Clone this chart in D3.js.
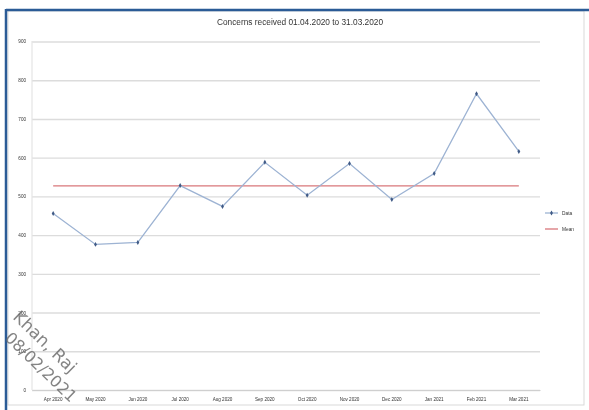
<!DOCTYPE html>
<html><head><meta charset="utf-8">
<script src="https://cdn.jsdelivr.net/npm/d3@7"></script>
<style>body{margin:0;background:#fff}svg{display:block}</style>
</head><body>
<svg id="c" width="589" height="410"></svg>
<script>
const months = ["Apr 2020","May 2020","Jun 2020","Jul 2020","Aug 2020","Sep 2020","Oct 2020","Nov 2020","Dec 2020","Jan 2021","Feb 2021","Mar 2021"];
const dataValues = [456, 376, 381, 528, 474, 588, 503, 585, 492, 559, 765, 616];
const yTicks = [0,100,200,300,400,500,600,700,800,900];
const titleText = "Concerns received 01.04.2020 to 31.03.2020";
const legendLabels = ["Data","Mean"];
const watermark = ["Khan, Raj","08/02/2021"];

const meanValue = d3.mean(dataValues);
const svg = d3.select("#c");
// frame
svg.append("rect").attr("x",8).attr("y",11).attr("width",576).attr("height",394).attr("fill","#fff").attr("stroke","#d9d9d9").attr("stroke-width",1);
svg.append("line").attr("x1",6).attr("x2",589).attr("y1",10).attr("y2",10).attr("stroke","#2b5b96").attr("stroke-width",2.5);
svg.append("line").attr("x1",6).attr("x2",6).attr("y1",9).attr("y2",410).attr("stroke","#2b5b96").attr("stroke-width",2.5);

const x=d3.scaleBand().domain(months).range([32,540]);
const y=d3.scaleLinear().domain([0,900]).range([390,41.5]);

const defs=svg.append("defs");
defs.append("filter").attr("id","blur").append("feGaussianBlur").attr("stdDeviation",0.45);
const g=svg.append("g").attr("filter","url(#blur)");

// gridlines
const ya=d3.axisLeft(y).tickValues(yTicks).tickSize(-(540-32)).tickFormat(d=>d);
const yg=g.append("g").attr("transform","translate(32,0)").call(ya);
yg.select(".domain").remove();
yg.selectAll(".tick line").attr("stroke","#dcdcdc").attr("stroke-width",1.4);
yg.selectAll(".tick text").attr("x",-6).attr("fill","#333").attr("font-size",4.6).attr("font-family","Liberation Sans, Arial");
g.append("line").attr("x1",32).attr("x2",32).attr("y1",41).attr("y2",390).attr("stroke","#e4e4e4").attr("stroke-width",1.2);

const xa=d3.axisBottom(x).tickSize(0).tickFormat(d=>d);
const xg=g.append("g").attr("transform","translate(0,390)").call(xa);
xg.select(".domain").attr("stroke","#cfcfcf").attr("stroke-width",1.2);
xg.selectAll(".tick text").attr("dy",8).attr("fill","#333").attr("font-size",4.6).attr("font-family","Liberation Sans, Arial");

const cx=d=>x(d)+x.bandwidth()/2;
// mean line
g.append("line").attr("x1",cx(months[0])).attr("x2",cx(months[months.length-1]))
 .attr("y1",y(meanValue)).attr("y2",y(meanValue)).attr("stroke","#d9777a").attr("stroke-width",1.3);
// data line
const line=d3.line().x((d,i)=>cx(months[i])).y(d=>y(d));
g.append("path").datum(dataValues).attr("d",line).attr("fill","none").attr("stroke","#9db3d3").attr("stroke-width",1.3);
g.selectAll(".pt").data(dataValues).enter().append("path").attr("class","pt")
 .attr("d",d3.symbol(d3.symbolDiamond,7))
 .attr("transform",(d,i)=>`translate(${cx(months[i])},${y(d)})`).attr("fill","#3f5a86");

// title
g.append("text").attr("x",300).attr("y",25).attr("text-anchor","middle").attr("font-size",8.3)
 .attr("font-family","Liberation Sans, Arial").attr("fill","#333").text(titleText);

// legend
const lg=g.append("g");
lg.append("line").attr("x1",545).attr("x2",558).attr("y1",213).attr("y2",213).attr("stroke","#9db3d3").attr("stroke-width",1.3);
lg.append("path").attr("d",d3.symbol(d3.symbolDiamond,7)).attr("transform","translate(551.5,213)").attr("fill","#3f5a86");
lg.append("line").attr("x1",545).attr("x2",558).attr("y1",229).attr("y2",229).attr("stroke","#d9777a").attr("stroke-width",1.3);
lg.selectAll(".lt").data(legendLabels).enter().append("text").attr("x",562).attr("y",(d,i)=>214.5+i*16)
 .attr("font-size",4.8).attr("font-family","Liberation Sans, Arial").attr("fill","#333").text(d=>d);

// watermark
svg.append("text").attr("transform","translate(12,318) rotate(44)").attr("font-size",17).attr("font-family","DejaVu Sans, Liberation Sans")
 .attr("fill","#6e6e6e").attr("fill-opacity",0.85).text(watermark[0]);
svg.append("text").attr("transform","translate(4,339) rotate(44)").attr("font-size",16).attr("font-family","DejaVu Sans, Liberation Sans")
 .attr("fill","#6e6e6e").attr("fill-opacity",0.85).text(watermark[1]);
</script>
</body></html>
